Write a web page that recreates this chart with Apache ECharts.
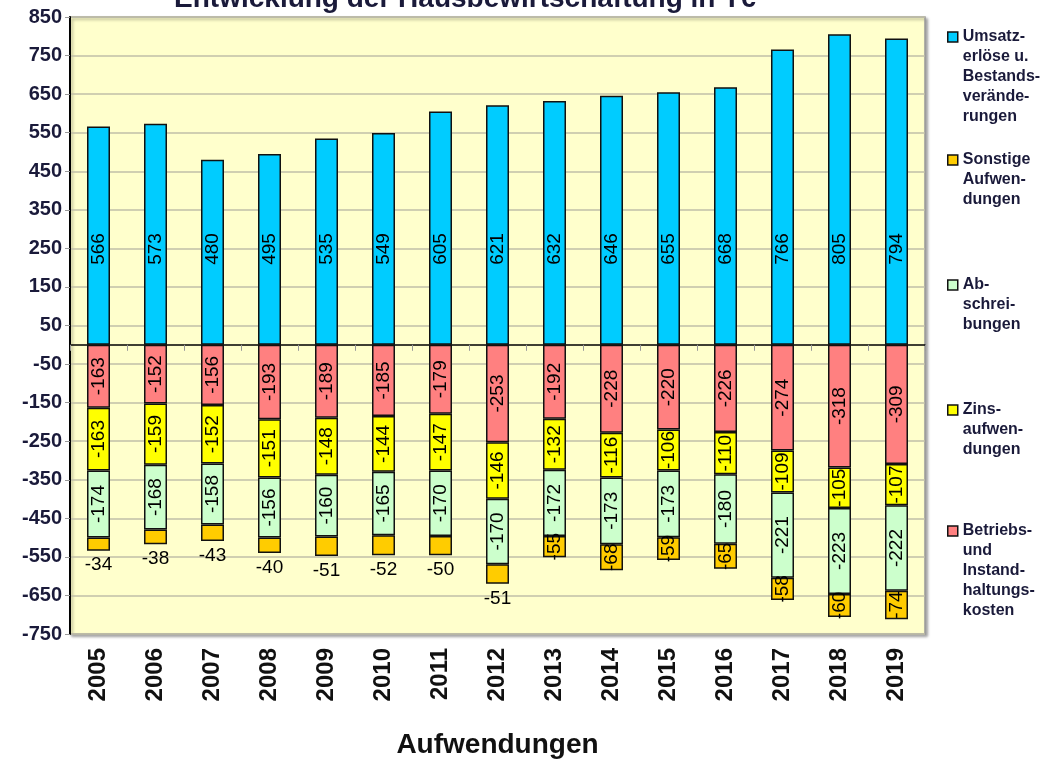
<!DOCTYPE html>
<html>
<head>
<meta charset="utf-8">
<script src="https://cdn.jsdelivr.net/npm/echarts@6/dist/echarts.min.js"></script>
<style>
html,body{margin:0;padding:0;background:#fff;}
#c{width:1051px;height:766px;}
</style>
</head>
<body>
<div id="c"></div>
<script>
const years = ['2005','2006','2007','2008','2009','2010','2011','2012','2013','2014','2015','2016','2017','2018','2019'];
const umsatz = [566,573,480,495,535,549,605,621,632,646,655,668,766,805,794];
const betrieb = [-163,-152,-156,-193,-189,-185,-179,-253,-192,-228,-220,-226,-274,-318,-309];
const zins = [-163,-159,-152,-151,-148,-144,-147,-146,-132,-116,-106,-110,-109,-105,-107];
const abschreib = [-174,-168,-158,-156,-160,-165,-170,-170,-172,-173,-173,-180,-221,-223,-222];
const sonstige = [-34,-38,-43,-40,-51,-52,-50,-51,-55,-68,-59,-65,-58,-60,-74];

const nameUmsatz = 'Umsatz-\nerlöse u.\nBestands-\nverände-\nrungen';
const nameSonst = 'Sonstige\nAufwen-\ndungen';
const nameAb = 'Ab-\nschrei-\nbungen';
const nameZins = 'Zins-\naufwen-\ndungen';
const nameBetr = 'Betriebs-\nund\nInstand-\nhaltungs-\nkosten';

const FONT = 'Liberation Sans, Arial, sans-serif';
const chart = echarts.init(document.getElementById('c'));

const itemBorder = {borderColor:'#111', borderWidth:1.5};
const lblInside = {show:true, position:'inside', rotate:90, color:'#000', fontSize:19, fontFamily:FONT, align:'center', verticalAlign:'middle'};

const LH = 20;
function legendAt(name, iconY){
  const n = name.split('\n').length;
  return {
    data:[name], left:947, top: iconY - (2*n-1)*LH/2, orient:'vertical',
    itemWidth:10, itemHeight:10, itemGap:0, padding:0,
    icon:'rect',
    itemStyle:{borderColor:'#111', borderWidth:1.5},
    selectedMode:false,
    formatter: nm => '\n'.repeat(n-1) + nm,
    textStyle:{fontSize:16, fontWeight:'bold', color:'#1a1a3a', fontFamily:FONT, lineHeight:LH}
  };
}

const sonstData = sonstige.map((v,i)=> i < 8 ? {value:v, label:{position:'bottom', rotate:0, distance:5, align:'center', verticalAlign:'top'}} : v);

chart.setOption({
  animation:false,
  title:{text:'Entwicklung der Hausbewirtschaftung in T€', left:465, textAlign:'center', top:-15, padding:0,
    textStyle:{fontSize:28, fontWeight:'bold', color:'#1a1a3a', fontFamily:FONT}},
  legend:[
    legendAt(nameUmsatz, 37),
    legendAt(nameSonst, 160),
    legendAt(nameAb, 285),
    legendAt(nameZins, 410),
    legendAt(nameBetr, 531)
  ],
  grid:{left:70, right:126, top:17, bottom:132, show:true, backgroundColor:'#FFFFCC', borderColor:'#9a9a9a', borderWidth:1.5,
    shadowColor:'rgba(0,0,0,0.35)', shadowBlur:3, shadowOffsetX:2, shadowOffsetY:2},
  xAxis:[
    {type:'category', data:years, position:'bottom',
      axisLine:{show:false, onZero:false}, axisTick:{show:false},
      axisLabel:{rotate:90, margin:14, fontSize:24, fontWeight:'bold', color:'#111', fontFamily:FONT},
      name:'Aufwendungen', nameLocation:'middle', nameGap:97,
      nameTextStyle:{fontSize:28, fontWeight:'bold', color:'#111', fontFamily:FONT}},
    {type:'category', data:years, position:'bottom',
      axisLine:{show:true, onZero:true, lineStyle:{color:'#000', width:1.5}},
      axisTick:{show:true, length:6, lineStyle:{color:'#999'}},
      axisLabel:{show:false}}
  ],
  yAxis:{type:'value', min:-750, max:850, interval:100,
    axisLine:{show:true, lineStyle:{color:'#000', width:2}},
    axisTick:{show:true, length:5, lineStyle:{color:'#999'}},
    axisLabel:{fontSize:20, fontWeight:'bold', color:'#1a1a3a', fontFamily:FONT, margin:8},
    splitLine:{show:true, lineStyle:{color:'#C0BFA8', width:1.5}}},
  series:[
    {name:nameUmsatz, type:'bar', stack:'a', barWidth:23, data:umsatz,
      itemStyle:Object.assign({color:'#00CCFF'}, itemBorder),
      label:{show:true, position:'insideBottom', distance:80, rotate:90, align:'left', verticalAlign:'middle', color:'#000', fontSize:19, fontFamily:FONT}},
    {name:nameBetr, type:'bar', stack:'a', barWidth:23, data:betrieb,
      itemStyle:Object.assign({color:'#FF8080'}, itemBorder), label:lblInside},
    {name:nameZins, type:'bar', stack:'a', barWidth:23, data:zins,
      itemStyle:Object.assign({color:'#FFFF00'}, itemBorder), label:lblInside},
    {name:nameAb, type:'bar', stack:'a', barWidth:23, data:abschreib,
      itemStyle:Object.assign({color:'#CCFFCC'}, itemBorder), label:lblInside},
    {name:nameSonst, type:'bar', stack:'a', barWidth:23, data:sonstData,
      itemStyle:Object.assign({color:'#FFCC00'}, itemBorder), label:lblInside}
  ]
});
</script>
</body>
</html>
